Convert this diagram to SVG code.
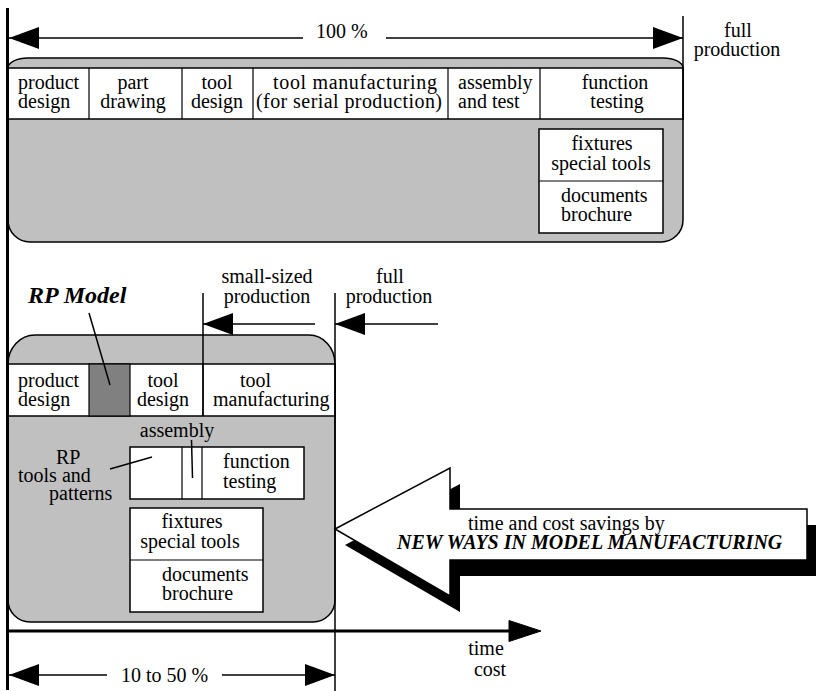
<svg xmlns="http://www.w3.org/2000/svg" width="816" height="691" viewBox="0 0 816 691">
<style>
text{font-family:"Liberation Serif","Times New Roman",serif;font-size:20px;fill:#000}
.c{text-anchor:middle}
.bi{font-weight:bold;font-style:italic}
.box{fill:#c0c0c0;stroke:#000;stroke-width:1.5}
.cell{fill:#fff;stroke:#000;stroke-width:1.5}
.div{stroke:#000;stroke-width:1.2;fill:none}
.ln{stroke:#000;stroke-width:1.5;fill:none}
.thick{stroke:#000;stroke-width:3;fill:none}
.head{fill:#000;stroke:#000;stroke-width:1}
</style>
<defs>
<marker id="ah" markerUnits="userSpaceOnUse" markerWidth="32" markerHeight="24" refX="30" refY="11" orient="auto" viewBox="0 0 32 24">
<path d="M0,0 L30,11 L0,22 Z" fill="#000"/>
</marker>
</defs>

<g id="top-process">
<path class="box" d="M8 68 A20 10 0 0 1 28 58 L663 58 A20 10 0 0 1 683 68 L683 220 A22 22 0 0 1 661 242 L30 242 A22 22 0 0 1 8 220 Z"/>
<rect class="cell" x="8" y="68" width="675" height="51"/>
<path class="div" d="M89 68V119M182 68V119M253 68V119M448 68V119M540 68V119"/>
<text x="18" y="89">product<tspan x="18" y="108">design</tspan></text>
<text class="c" x="133" y="89">part<tspan x="133" y="108">drawing</tspan></text>
<text class="c" x="217" y="89">tool<tspan x="217" y="108">design</tspan></text>
<text x="273" y="89"><tspan textLength="164" lengthAdjust="spacing">tool manufacturing</tspan><tspan x="256" y="108" textLength="186" lengthAdjust="spacing">(for serial production)</tspan></text>
<text x="458" y="89">assembly<tspan x="458" y="108">and test</tspan></text>
<text class="c" x="615" y="89">function<tspan x="617" y="108">testing</tspan></text>
</g>

<g id="top-fixtures">
<rect class="cell" x="539" y="129" width="124" height="104"/>
<path class="div" d="M539 181H663"/>
<text class="c" x="602" y="150">fixtures<tspan x="601" y="170">special tools</tspan></text>
<text x="561" y="202">documents<tspan x="561" y="221">brochure</tspan></text>
</g>

<g id="labels-top">
<text x="316" y="38">100 %</text>
<text class="c" x="738" y="37">full<tspan x="737" y="56">production</tspan></text>
<text class="c" x="267" y="283">small-sized<tspan x="267" y="303">production</tspan></text>
<text class="c" x="390" y="283">full<tspan x="389" y="303">production</tspan></text>
<text class="bi" x="28" y="303" style="font-size:24px">RP Model</text>
</g>

<g id="bottom-process">
<path class="box" d="M8 364 A27 29 0 0 1 35 335 L309 335 A26 29 0 0 1 335 364 L335 600 A22 22 0 0 1 313 622 L30 622 A22 22 0 0 1 8 600 Z"/>
<rect class="cell" x="8" y="364" width="327" height="52"/>
<rect x="89" y="364" width="41" height="52" fill="#808080" stroke="#000" stroke-width="1.2"/>
<path class="div" d="M203 364V416"/>
<text x="18" y="387">product<tspan x="18" y="406">design</tspan></text>
<text class="c" x="163" y="387">tool<tspan x="163" y="406">design</tspan></text>
<text x="240" y="387">tool<tspan x="213" y="406">manufacturing</tspan></text>
</g>

<g id="bottom-testing">
<rect class="cell" x="130" y="447" width="174" height="52"/>
<path class="div" d="M182 447V499M202 447V499"/>
<text x="223" y="468">function<tspan x="223" y="488">testing</tspan></text>
<text class="c" x="177" y="437">assembly</text>
<text x="56" y="464">RP<tspan x="18" y="482">tools and</tspan><tspan x="49" y="500">patterns</tspan></text>
</g>

<g id="bottom-fixtures">
<rect class="cell" x="130" y="508" width="133" height="104"/>
<path class="div" d="M130 560H263"/>
<text class="c" x="192" y="528">fixtures<tspan x="190" y="548">special tools</tspan></text>
<text x="162" y="581">documents<tspan x="162" y="600">brochure</tspan></text>
</g>

<g id="savings-arrow">
<polygon points="345,545 460,484 460,525 817,525 817,576 460,576 460,612" fill="#000"/>
<polygon points="335,529 450,468 450,509 807,509 807,560 450,560 450,596" fill="#fff" stroke="#000" stroke-width="1.5"/>
<text x="468" y="530">time and cost savings by<tspan class="bi" x="397" y="549">NEW WAYS IN MODEL MANUFACTURING</tspan></text>
</g>

<g id="connectors">
<line class="ln" x1="303" y1="38" x2="9" y2="38" marker-end="url(#ah)"/>
<line class="ln" x1="386" y1="38" x2="683" y2="38" marker-end="url(#ah)"/>
<line class="ln" x1="683" y1="16" x2="683" y2="120"/>
<line class="ln" x1="203" y1="293" x2="203" y2="416"/>
<line class="ln" x1="335" y1="293" x2="335" y2="691"/>
<line class="ln" x1="315" y1="324" x2="203" y2="324" marker-end="url(#ah)"/>
<line class="ln" x1="438" y1="324" x2="335" y2="324" marker-end="url(#ah)"/>
<line class="ln" x1="89" y1="313" x2="110" y2="385"/>
<line class="ln" x1="191.5" y1="440" x2="192.5" y2="478"/>
<line class="ln" x1="110" y1="469" x2="152" y2="457"/>
<line class="thick" x1="8" y1="631" x2="511" y2="631"/>
<path class="head" d="M509 620.5 L541 631 L509 641.5 Z"/>
<line class="ln" x1="107" y1="675" x2="9" y2="675" marker-end="url(#ah)"/>
<line class="ln" x1="222" y1="675" x2="335" y2="675" marker-end="url(#ah)"/>
<line class="thick" x1="7.5" y1="8" x2="7.5" y2="690"/>
</g>

<g id="labels-bottom">
<text class="c" x="486" y="655">time<tspan x="490" y="676">cost</tspan></text>
<text x="121" y="682">10 to 50 %</text>
</g>
</svg>
